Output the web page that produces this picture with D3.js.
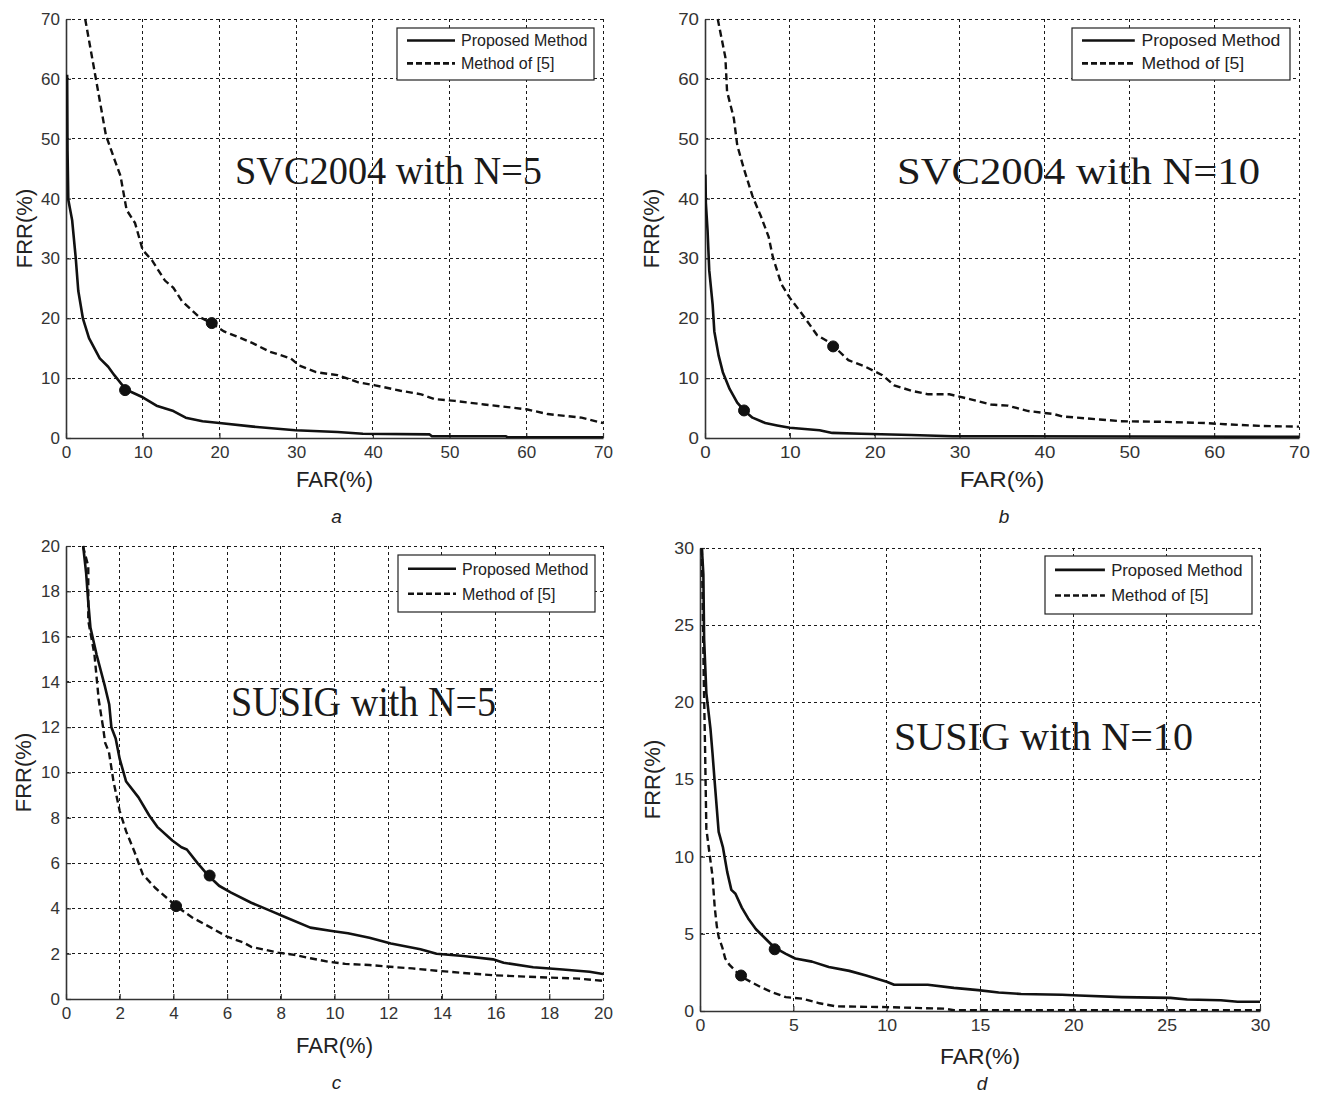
<!DOCTYPE html>
<html lang="en">
<head>
<meta charset="UTF-8">
<title>FAR / FRR curves</title>
<script src="https://d3js.org/d3.v7.min.js"></script>
<style>
  body { margin: 0; background: #fff; }
  text { font-family: "Liberation Sans", Arial, sans-serif; }
</style>
</head>
<body>
<svg id="chart" width="1317" height="1093"></svg>
<script>
// ---- data: [FAR, FRR] pairs ----
const svc5Proposed = [[0.15,60.7],[0.2,48],[0.3,39.8],[0.8,36.4],[1.26,30.2],[1.6,24.6],[2.2,20],[3.0,16.7],[4.4,13.3],[5.5,11.9],[6.3,10.5],[7.8,8.1],[10,6.8],[11.8,5.4],[14,4.5],[15.6,3.4],[17.8,2.8],[20,2.5],[24.4,1.9],[29.9,1.3],[35.4,1.0],[38.7,0.7],[47.4,0.6],[47.7,0.3],[57.3,0.3],[57.6,0.1],[70,0.1]];
const svc5Ref = [[2.5,70],[3.8,60.7],[5.2,50.6],[6.3,46.6],[7.1,43.8],[7.9,38.1],[9.0,35.9],[10,31.4],[11.2,29.7],[12.9,26.3],[14,25.1],[15.1,22.9],[17.3,20.3],[19.1,19.1],[20.6,17.8],[22.8,16.7],[24.4,15.8],[26.6,14.4],[29.3,13.3],[30.4,12.1],[32.6,11.0],[35.4,10.5],[38.1,9.3],[40.3,8.8],[43.6,7.9],[46.3,7.3],[48,6.5],[50.7,6.2],[54.5,5.6],[57.3,5.2],[60,4.8],[62.8,4.0],[67.2,3.4],[70,2.5]];
const svc5Marks = [[7.7,8.0],[19.0,19.2]];

const svc10Proposed = [[0.05,44],[0.1,39.3],[0.3,34.7],[0.5,28],[0.9,22.3],[1.1,17.8],[1.6,13.8],[2.1,11],[2.9,8.2],[3.8,5.9],[4.6,4.6],[5.6,3.4],[7.1,2.5],[8.5,2.1],[10,1.7],[13.5,1.3],[15,0.85],[18.4,0.7],[24.3,0.5],[29.2,0.3],[70,0.2]];
const svc10Ref = [[1.5,70],[2.4,63.6],[2.6,57.9],[3.4,53.4],[3.8,48.9],[4.6,44.9],[5.6,40.4],[6.6,37],[7.5,33.6],[8.0,30.2],[9.0,25.7],[10,23.4],[11.5,20.6],[13.2,17.2],[14.5,16.1],[15.2,15.3],[16.9,13],[18.9,11.9],[20.9,10.5],[22.3,8.8],[24.3,7.9],[26.3,7.3],[28.8,7.3],[31.2,6.5],[33.7,5.6],[35.7,5.4],[38.1,4.5],[41.1,4.0],[42.1,3.6],[46.5,3.1],[49,2.8],[53.9,2.7],[58.9,2.5],[61.3,2.3],[65.8,2.0],[70,1.9]];
const svc10Marks = [[4.6,4.6],[15.1,15.3]];

const susig5Proposed = [[0.64,20],[0.75,18.8],[0.83,17.5],[0.91,16.4],[1.14,15.2],[1.45,13.8],[1.61,13],[1.69,12.0],[1.85,11.5],[2.0,10.6],[2.24,9.6],[2.7,8.9],[3.1,8.1],[3.4,7.6],[3.96,7.0],[4.3,6.7],[4.5,6.6],[4.9,6.0],[5.3,5.45],[5.7,5.0],[6.15,4.7],[6.9,4.25],[7.6,3.9],[8.2,3.6],[9.1,3.15],[9.9,3.0],[10.5,2.9],[11.3,2.7],[12.1,2.45],[13.2,2.2],[13.8,2.0],[14.8,1.9],[15.9,1.75],[16.3,1.6],[17.4,1.4],[18.5,1.3],[19.5,1.2],[20,1.1]];
const susig5Ref = [[0.63,20],[0.83,19.1],[0.83,16.7],[1.06,15.2],[1.22,13.2],[1.38,12],[1.46,11.3],[1.6,10.9],[1.77,9.6],[2.0,8.3],[2.24,7.4],[2.55,6.5],[2.86,5.5],[3.33,4.9],[3.96,4.25],[4.1,4.1],[4.7,3.6],[5.4,3.15],[6.0,2.75],[6.6,2.5],[6.9,2.3],[7.9,2.05],[8.5,1.95],[9.1,1.8],[9.75,1.65],[10.4,1.55],[11.3,1.5],[12.3,1.4],[12.9,1.35],[13.8,1.25],[14.8,1.15],[15.9,1.05],[16.9,1.0],[17.9,0.95],[19.1,0.9],[20,0.8]];
const susig5Marks = [[5.35,5.45],[4.1,4.1]];

const susig10Proposed = [[0.1,30],[0.18,28.3],[0.22,24.1],[0.34,20.6],[0.56,18.3],[0.67,16.7],[0.79,14.8],[1.0,11.6],[1.23,10.6],[1.46,9.0],[1.68,7.85],[1.9,7.6],[2.24,6.7],[2.58,6.0],[3.0,5.3],[3.5,4.7],[4.0,4.1],[4.6,3.7],[5.1,3.4],[6.0,3.2],[6.9,2.85],[8.0,2.6],[8.9,2.3],[10,1.9],[10.4,1.7],[12.2,1.7],[13.6,1.5],[14.9,1.35],[16.0,1.2],[17.2,1.1],[19.4,1.05],[20.3,1.0],[22.6,0.9],[25.2,0.85],[26.1,0.75],[27.9,0.7],[28.8,0.6],[30,0.6]];
const susig10Ref = [[0.1,30],[0.2,21.7],[0.27,17.1],[0.34,11.8],[0.52,10.1],[0.67,8.75],[0.79,6.7],[0.9,5.5],[1.0,4.8],[1.2,4.1],[1.35,3.4],[1.57,3.0],[1.9,2.6],[2.18,2.25],[2.7,1.9],[3.25,1.55],[3.9,1.2],[4.6,0.9],[5.5,0.8],[6.4,0.5],[7.3,0.3],[10,0.25],[13.1,0.15],[13.6,0.05],[30,0.05]];
const susig10Marks = [[4.0,4.0],[2.2,2.3]];

const legendLabels = ["Proposed Method", "Method of [5]"];
const xLabel = "FAR(%)";
const yLabel = "FRR(%)";

// ---- layout of the four panels ----
const panels = [
  { tag: "a", title: "SVC2004 with N=5", proposed: svc5Proposed, ref: svc5Ref, marks: svc5Marks,
    L: 66, R: 603, T: 19, B: 438, max: 70, step: 10, sx: 1.0,
    titleX: 235, titleY: 184, titleW: 307, titleSize: 39,
    leg: [397, 28, 197, 52], farY: 487, frrX: 24, subY: 523 },
  { tag: "b", title: "SVC2004 with N=10", proposed: svc10Proposed, ref: svc10Ref, marks: svc10Marks,
    L: 705, R: 1299, T: 19, B: 438, max: 70, step: 10, sx: 1.1,
    titleX: 897, titleY: 184, titleW: 363, titleSize: 38,
    leg: [1072, 28, 218, 52], farY: 487, frrX: 651, subY: 523 },
  { tag: "c", title: "SUSIG with N=5", proposed: susig5Proposed, ref: susig5Ref, marks: susig5Marks,
    L: 66, R: 603, T: 546, B: 999, max: 20, step: 2, sx: 1.0,
    titleX: 231, titleY: 716, titleW: 265, titleSize: 42,
    leg: [398, 555, 197, 57], farY: 1053, frrX: 23, subY: 1089 },
  { tag: "d", title: "SUSIG with N=10", proposed: susig10Proposed, ref: susig10Ref, marks: susig10Marks,
    L: 700, R: 1260, T: 548, B: 1011, max: 30, step: 5, sx: 1.04,
    titleX: 894, titleY: 750, titleW: 299, titleSize: 39,
    leg: [1045, 556, 207, 58], farY: 1064, frrX: 652, subY: 1090 }
];

const svg = d3.select("#chart");
const INK = "#111";

function stretch(sel, sx) {
  // the source scan is stretched differently per panel; mimic it on the text
  sel.each(function() {
    const w = this.getComputedTextLength();
    if (w > 0 && sx !== 1) {
      d3.select(this).attr("textLength", w * sx).attr("lengthAdjust", "spacingAndGlyphs");
    }
  });
}

panels.forEach(function(p, i) {
  const x = d3.scaleLinear().domain([0, p.max]).range([p.L, p.R]);
  const y = d3.scaleLinear().domain([0, p.max]).range([p.B, p.T]);
  const ticks = d3.range(0, p.max + p.step / 2, p.step);
  const g = svg.append("g");

  // grid (dotted, also forms the top and right edge)
  const grid = g.append("g").attr("shape-rendering", "crispEdges")
    .attr("stroke", "#1a1a1a").attr("stroke-width", 1).attr("stroke-dasharray", "3,3");
  grid.selectAll(".gx").data(ticks).join("line")
    .attr("x1", d => x(d)).attr("x2", d => x(d))
    .attr("y1", p.T).attr("y2", p.B);
  grid.selectAll(".gy").data(ticks).join("line")
    .attr("x1", p.L).attr("x2", p.R)
    .attr("y1", d => y(d)).attr("y2", d => y(d));

  // axes
  const xAxis = g.append("g").attr("transform", `translate(0,${p.B})`)
    .call(d3.axisBottom(x).tickValues(ticks).tickSizeInner(-5).tickSizeOuter(0).tickPadding(8));
  const yAxis = g.append("g").attr("transform", `translate(${p.L},0)`)
    .call(d3.axisLeft(y).tickValues(ticks).tickSizeInner(-5).tickSizeOuter(0).tickPadding(6));
  [xAxis, yAxis].forEach(function(ax) {
    ax.select(".domain").attr("stroke", "#333").attr("stroke-width", 1.6);
    ax.selectAll(".tick line").attr("stroke", "#333").attr("stroke-width", 1.2);
    ax.selectAll(".tick text").attr("fill", "#333").style("font-size", "17px")
      .style("font-family", "'Liberation Sans', Arial, sans-serif");
    stretch(ax.selectAll(".tick text"), p.sx);
  });

  // curves
  const clipId = "clip" + i;
  svg.append("clipPath").attr("id", clipId).append("rect")
    .attr("x", p.L).attr("y", p.T - 2).attr("width", p.R - p.L + 1).attr("height", p.B - p.T + 2);
  const line = d3.line().x(d => x(d[0])).y(d => y(d[1]));
  const curves = g.append("g").attr("clip-path", `url(#${clipId})`);
  curves.append("path").datum(p.proposed).attr("d", line)
    .attr("fill", "none").attr("stroke", INK).attr("stroke-width", 2.6).attr("stroke-linejoin", "round");
  curves.append("path").datum(p.ref).attr("d", line)
    .attr("fill", "none").attr("stroke", INK).attr("stroke-width", 2.4).attr("stroke-dasharray", "7,4");

  // EER markers
  g.selectAll(".mark").data(p.marks).join("path")
    .attr("transform", d => `translate(${x(d[0])},${y(d[1])})`)
    .attr("d", d3.symbol(d3.symbolCircle, 95))
    .attr("fill", INK).attr("stroke", INK).attr("stroke-width", 1);

  // title text in the plot
  g.append("text").attr("x", p.titleX).attr("y", p.titleY)
    .attr("textLength", p.titleW).attr("lengthAdjust", "spacingAndGlyphs")
    .style("font-family", "'Liberation Serif', 'Times New Roman', serif")
    .style("font-size", p.titleSize + "px").attr("fill", "#1a1a1a")
    .text(p.title);

  // legend
  const [lx, ly, lw, lh] = p.leg;
  const leg = g.append("g");
  leg.append("rect").attr("x", lx).attr("y", ly).attr("width", lw).attr("height", lh)
    .attr("fill", "#fff").attr("stroke", "#222").attr("stroke-width", 1.2);
  const rowY = [ly + lh * 0.24, ly + lh * 0.68];
  legendLabels.forEach(function(lab, k) {
    leg.append("line").attr("x1", lx + 10).attr("x2", lx + 10 + 48 * p.sx)
      .attr("y1", rowY[k]).attr("y2", rowY[k])
      .attr("stroke", INK).attr("stroke-width", 2.6)
      .attr("stroke-dasharray", k === 1 ? "6,3" : null);
    const t = leg.append("text").attr("x", lx + 10 + 54 * p.sx).attr("y", rowY[k] + 6)
      .style("font-size", "16px").attr("fill", "#222").text(lab);
    stretch(t, p.sx);
  });

  // axis labels
  const fx = g.append("text").attr("x", (p.L + p.R) / 2).attr("y", p.farY)
    .attr("text-anchor", "middle").style("font-size", "22px").attr("fill", "#222").text(xLabel);
  stretch(fx, p.sx);
  g.append("text").attr("transform", `translate(${p.frrX + 8},${(p.T + p.B) / 2}) rotate(-90)`)
    .attr("text-anchor", "middle").style("font-size", "22px").attr("fill", "#222").text(yLabel);

  // sub-figure letter
  g.append("text").attr("x", (p.L + p.R) / 2 + 2).attr("y", p.subY)
    .attr("text-anchor", "middle").style("font-size", "19px").style("font-style", "italic")
    .attr("fill", "#222").text(p.tag);
});
</script>
</body>
</html>
